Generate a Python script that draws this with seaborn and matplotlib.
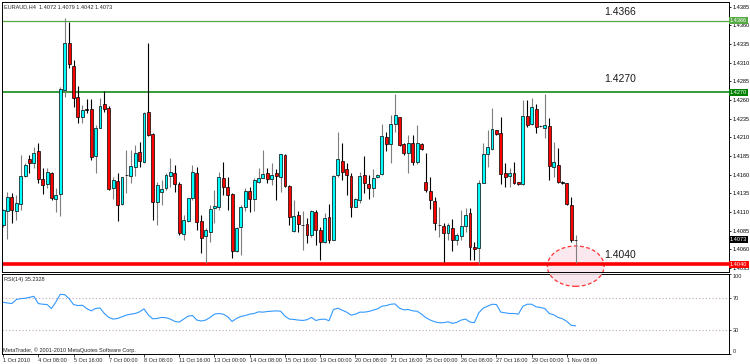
import matplotlib
matplotlib.use("Agg")
import matplotlib.pyplot as plt
from matplotlib.patches import Ellipse
import numpy as np
import pandas as pd
import seaborn as sns

# EURAUD H4 candles
OPEN = [1.4093, 1.4111, 1.4130, 1.4111, 1.4121, 1.4158, 1.4181, 1.4176, 1.4192, 1.4154,
        1.4148, 1.4162, 1.4127, 1.4134, 1.4273, 1.4336, 1.4305, 1.4264, 1.4237, 1.4248,
        1.4248, 1.4185, 1.4222, 1.4255, 1.4249, 1.4142, 1.4152, 1.4121, 1.4159, 1.4158,
        1.4170, 1.4190, 1.4177, 1.4244, 1.4214, 1.4123, 1.4137, 1.4142, 1.4158, 1.4162,
        1.4148, 1.4081, 1.4098, 1.4129, 1.4162, 1.4098, 1.4078, 1.4083, 1.4115, 1.4117,
        1.4156, 1.4144, 1.4134, 1.4058, 1.4090, 1.4117, 1.4138, 1.4127, 1.4150, 1.4156,
        1.4162, 1.4154, 1.4162, 1.4157, 1.4186, 1.4145, 1.4085, 1.4106, 1.4093, 1.4094,
        1.4079, 1.4110, 1.4086, 1.4070, 1.4103, 1.4073, 1.4160, 1.4178, 1.4168, 1.4158,
        1.4117, 1.4126, 1.4160, 1.4148, 1.4142, 1.4157, 1.4161, 1.4210, 1.4201, 1.4228,
        1.4237, 1.4201, 1.4189, 1.4202, 1.4177, 1.4201, 1.4150, 1.4138, 1.4125, 1.4093,
        1.4091, 1.4082, 1.4089, 1.4073, 1.4078, 1.4091, 1.4109, 1.4063, 1.4062, 1.4149,
        1.4188, 1.4194, 1.4220, 1.4216, 1.4162, 1.4158, 1.4162, 1.4150, 1.4148, 1.4238,
        1.4228, 1.4248, 1.4225, 1.4222, 1.4225, 1.4170, 1.4173, 1.4150, 1.4149, 1.4119,
        1.4072]
HIGH = [1.4114, 1.4137, 1.4135, 1.4133, 1.4186, 1.4176, 1.4186, 1.4197, 1.4202, 1.4169,
        1.4169, 1.4164, 1.4142, 1.4277, 1.4370, 1.4364, 1.4313, 1.4279, 1.4253, 1.4261,
        1.4261, 1.4226, 1.4263, 1.4272, 1.4252, 1.4157, 1.4162, 1.4157, 1.4193, 1.4193,
        1.4200, 1.4204, 1.4244, 1.4336, 1.4216, 1.4150, 1.4153, 1.4162, 1.4182, 1.4173,
        1.4150, 1.4106, 1.4129, 1.4173, 1.4170, 1.4106, 1.4089, 1.4119, 1.4140, 1.4164,
        1.4177, 1.4157, 1.4135, 1.4090, 1.4119, 1.4142, 1.4144, 1.4156, 1.4169, 1.4193,
        1.4169, 1.4176, 1.4168, 1.4188, 1.4188, 1.4146, 1.4126, 1.4111, 1.4111, 1.4102,
        1.4113, 1.4113, 1.4090, 1.4109, 1.4121, 1.4160, 1.4217, 1.4202, 1.4176, 1.4162,
        1.4129, 1.4164, 1.4185, 1.4160, 1.4168, 1.4161, 1.4228, 1.4217, 1.4240, 1.4268,
        1.4237, 1.4202, 1.4213, 1.4213, 1.4226, 1.4202, 1.4189, 1.4157, 1.4130, 1.4117,
        1.4095, 1.4095, 1.4101, 1.4082, 1.4113, 1.4115, 1.4115, 1.4070, 1.4153, 1.4202,
        1.4220, 1.4249, 1.4220, 1.4237, 1.4176, 1.4169, 1.4177, 1.4150, 1.4260, 1.4260,
        1.4263, 1.4255, 1.4226, 1.4268, 1.4236, 1.4204, 1.4196, 1.4152, 1.4149, 1.4130,
        1.4079]
LOW = [1.4090, 1.4074, 1.4095, 1.4099, 1.4113, 1.4157, 1.4162, 1.4169, 1.4149, 1.4134,
       1.4142, 1.4126, 1.4110, 1.4105, 1.4264, 1.4303, 1.4251, 1.4229, 1.4229, 1.4243,
       1.4180, 1.4162, 1.4222, 1.4244, 1.4140, 1.4127, 1.4098, 1.4119, 1.4135, 1.4149,
       1.4158, 1.4170, 1.4176, 1.4212, 1.4099, 1.4093, 1.4119, 1.4140, 1.4144, 1.4137,
       1.4079, 1.4073, 1.4097, 1.4126, 1.4086, 1.4055, 1.4042, 1.4070, 1.4095, 1.4113,
       1.4133, 1.4113, 1.4048, 1.4057, 1.4052, 1.4111, 1.4110, 1.4111, 1.4149, 1.4156,
       1.4149, 1.4146, 1.4126, 1.4137, 1.4144, 1.4093, 1.4083, 1.4083, 1.4059, 1.4069,
       1.4077, 1.4066, 1.4046, 1.4069, 1.4069, 1.4073, 1.4157, 1.4153, 1.4133, 1.4103,
       1.4117, 1.4122, 1.4135, 1.4127, 1.4130, 1.4156, 1.4160, 1.4192, 1.4176, 1.4217,
       1.4198, 1.4186, 1.4162, 1.4173, 1.4174, 1.4193, 1.4137, 1.4114, 1.4086, 1.4077,
       1.4043, 1.4073, 1.4058, 1.4066, 1.4073, 1.4083, 1.4046, 1.4046, 1.4040, 1.4149,
       1.4170, 1.4193, 1.4213, 1.4148, 1.4144, 1.4144, 1.4148, 1.4146, 1.4146, 1.4224,
       1.4226, 1.4216, 1.4224, 1.4209, 1.4153, 1.4157, 1.4149, 1.4148, 1.4119, 1.4070,
       1.4042]
CLOSE = [1.4113, 1.4130, 1.4113, 1.4122, 1.4158, 1.4173, 1.4176, 1.4189, 1.4154, 1.4146,
         1.4164, 1.4129, 1.4133, 1.4275, 1.4336, 1.4308, 1.4263, 1.4237, 1.4247, 1.4247,
         1.4184, 1.4222, 1.4252, 1.4248, 1.4141, 1.4153, 1.4119, 1.4157, 1.4160, 1.4172,
         1.4189, 1.4178, 1.4243, 1.4213, 1.4123, 1.4146, 1.4141, 1.4160, 1.4164, 1.4148,
         1.4082, 1.4099, 1.4129, 1.4164, 1.4097, 1.4075, 1.4086, 1.4114, 1.4118, 1.4157,
         1.4144, 1.4133, 1.4058, 1.4089, 1.4117, 1.4138, 1.4127, 1.4153, 1.4156, 1.4161,
         1.4154, 1.4160, 1.4158, 1.4188, 1.4145, 1.4103, 1.4105, 1.4094, 1.4093, 1.4079,
         1.4111, 1.4086, 1.4070, 1.4102, 1.4073, 1.4158, 1.4181, 1.4164, 1.4160, 1.4117,
         1.4127, 1.4158, 1.4149, 1.4142, 1.4156, 1.4160, 1.4212, 1.4201, 1.4228, 1.4240,
         1.4200, 1.4189, 1.4202, 1.4177, 1.4202, 1.4194, 1.4140, 1.4126, 1.4095, 1.4093,
         1.4082, 1.4093, 1.4073, 1.4079, 1.4091, 1.4106, 1.4063, 1.4061, 1.4149, 1.4188,
         1.4197, 1.4221, 1.4214, 1.4161, 1.4157, 1.4162, 1.4149, 1.4148, 1.4238, 1.4226,
         1.4251, 1.4224, 1.4225, 1.4226, 1.4172, 1.4177, 1.4150, 1.4149, 1.4121, 1.4073,
         1.4073]

RSI = [64.6, 63.8, 63.0, 68.0, 69.2, 69.6, 70.8, 72.1, 63.0, 62.2,
       61.8, 56.8, 65.1, 74.6, 74.1, 69.2, 61.8, 60.5, 60.9, 56.8,
       53.9, 56.8, 57.6, 50.6, 45.7, 43.6, 44.4, 46.5, 48.6, 49.8,
       50.6, 52.7, 56.4, 48.6, 44.0, 44.4, 45.7, 45.3, 43.6, 40.7,
       39.9, 43.6, 47.3, 48.1, 42.4, 41.2, 42.4, 45.7, 49.8, 50.6,
       49.8, 46.5, 40.7, 44.4, 46.9, 48.1, 49.8, 50.6, 52.7, 52.3,
       53.1, 53.5, 53.9, 53.5, 47.3, 43.6, 43.2, 42.4, 41.9, 42.8,
       45.7, 41.9, 43.2, 43.6, 41.6, 55.6, 57.2, 54.8, 52.3, 48.6,
       49.8, 52.3, 52.3, 53.1, 54.8, 56.4, 59.7, 60.5, 62.2, 62.6,
       57.2, 55.2, 55.6, 53.9, 53.5, 49.8, 45.3, 42.4, 40.3, 39.1,
       39.1, 40.3, 38.3, 39.5, 42.4, 43.6, 39.9, 39.1, 51.5, 57.2,
       59.7, 62.2, 61.8, 52.3, 51.5, 50.6, 50.6, 49.8, 59.7, 62.2,
       62.2, 58.9, 58.1, 56.8, 50.6, 49.0, 45.7, 44.0, 40.7, 35.8,
       35.2]

DATE_LABELS = ["1 Oct 2010", "4 Oct 08:00", "5 Oct 16:00", "7 Oct 00:00", "8 Oct 08:00",
               "11 Oct 16:00", "13 Oct 00:00", "14 Oct 08:00", "15 Oct 16:00", "19 Oct 00:00",
               "20 Oct 08:00", "21 Oct 16:00", "25 Oct 00:00", "26 Oct 08:00", "27 Oct 16:00",
               "29 Oct 00:00", "1 Nov 08:00"]
BARS_PER_LABEL = 8

PRICE_TICKS = [1.4035, 1.4060, 1.4085, 1.4110, 1.4135, 1.4160, 1.4185, 1.4210, 1.4235,
               1.4260, 1.4285, 1.4310, 1.4335, 1.4360, 1.4385]
LEVELS = [1.4366, 1.4270, 1.4040]
LEVEL_COLORS = ["#55aa44", "#008000", "#ff0000"]
LEVEL_WIDTHS = [0.9, 1.1, 2.6]
LEVEL_TEXT_OFFSETS = [6.0, 9.8, 6.8]  # points above line
LAST_PRICE = 1.4073
RSI_LEVELS = [70, 30]
RSI_TICKS = [100, 70, 30, 0]

HEADER = "EURAUD,H4  1.4072 1.4079 1.4042 1.4073"
RSI_TITLE = "RSI(14) 35.2328"
COPYRIGHT = "MetaTrader, \u00a9 2001-2010 MetaQuotes Software Corp."

BULL = "#00ffff"
BEAR = "#ff0000"
SMALL_FONT = ["Liberation Sans Narrow", "Liberation Sans", "DejaVu Sans"]
SMALL = 4.0


def main() -> None:
    sns.set_style("white")
    plt.rcParams["font.family"] = ["Liberation Sans", "DejaVu Sans"]

    df = pd.DataFrame({"open": OPEN, "high": HIGH, "low": LOW, "close": CLOSE})
    df["bar"] = np.arange(len(df))
    df["rsi"] = RSI
    df["up"] = df["close"] >= df["open"]
    df["doji"] = (df["close"] - df["open"]).abs() < 0.00015

    fig = plt.figure(figsize=(7.5, 3.64), dpi=100)
    fig.patch.set_facecolor("white")
    ax = fig.add_axes([0.0023, 0.2514, 0.9697, 0.7440])
    ax_rsi = fig.add_axes([0.0023, 0.0275, 0.9697, 0.2198])
    ax.set_zorder(2)
    ax_rsi.set_zorder(1)

    xlim = (-0.3, 164.8)

    # wicks
    wick_colors = np.where(df["up"], "#7f7f7f", "#000000")
    ax.vlines(df["bar"], df["low"], df["high"], colors=wick_colors, linewidth=0.8, zorder=2)

    # bodies
    body_bottom = df[["open", "close"]].min(axis=1)
    body_height = (df["close"] - df["open"]).abs()
    body_colors = np.where(df["doji"], "#000000", np.where(df["up"], BULL, BEAR))
    ax.bar(df["bar"], body_height, bottom=body_bottom, width=0.66, color=body_colors,
           edgecolor="#000000", linewidth=0.5, zorder=3)

    # horizontal levels
    for level, color, lw, off in zip(LEVELS, LEVEL_COLORS, LEVEL_WIDTHS, LEVEL_TEXT_OFFSETS):
        ax.axhline(level, color=color, linewidth=lw, zorder=1)
        ax.annotate(f"{level:.4f}", xy=(140, level), xytext=(0, off), textcoords="offset points",
                    ha="center", va="center", fontsize=7.5, color="#1a1a1a", zorder=6)
        ax.text(1.0015, level, f"{level:.4f}", transform=ax.get_yaxis_transform(),
                ha="left", va="center", fontsize=SMALL, color="white", family=SMALL_FONT,
                bbox=dict(boxstyle="square,pad=0.2", fc=color, ec="none"), zorder=7, clip_on=False)
    ax.text(1.0015, LAST_PRICE, f"{LAST_PRICE:.4f}", transform=ax.get_yaxis_transform(),
            ha="left", va="center", fontsize=SMALL, color="white", family=SMALL_FONT,
            bbox=dict(boxstyle="square,pad=0.2", fc="#000000", ec="none"), zorder=7, clip_on=False)

    # highlighted low
    last_bar = len(df) - 1
    ax.add_patch(Ellipse((last_bar, LEVELS[2] - 0.00025), width=12.9, height=0.0054,
                         facecolor="#fbe3ec", alpha=0.8, edgecolor="#ff0000",
                         linestyle=(0, (3, 2)), linewidth=0.9, zorder=0.5, clip_on=False))

    ax.set_xlim(*xlim)
    ax.set_ylim(1.40290, 1.43915)
    ax.yaxis.tick_right()
    ax.set_yticks(PRICE_TICKS)
    ax.set_yticklabels([f"{p:.4f}" for p in PRICE_TICKS], fontsize=SMALL, family=SMALL_FONT)
    ax.tick_params(axis="y", right=True, length=1.5, width=0.6, pad=1.0, colors="#000000")
    ax.set_xticks([])
    for spine in ax.spines.values():
        spine.set_color("#000000")
        spine.set_linewidth(0.7)
    ax.set_facecolor("white")

    # RSI panel
    sns.lineplot(data=df, x="bar", y="rsi", ax=ax_rsi, color="#3399ff", linewidth=0.8)
    for lvl in RSI_LEVELS:
        ax_rsi.axhline(lvl, color="#c0a8b8", linewidth=0.8, linestyle=(0, (1, 2)), zorder=0)
    ax_rsi.set_xlim(*xlim)
    ax_rsi.set_ylim(0, 100)
    ax_rsi.yaxis.tick_right()
    ax_rsi.set_yticks(RSI_TICKS)
    ax_rsi.set_yticklabels([str(t) for t in RSI_TICKS], fontsize=SMALL, family=SMALL_FONT)
    labels = ax_rsi.get_yticklabels()
    labels[0].set_va("top")
    labels[-1].set_va("bottom")
    ax_rsi.tick_params(axis="y", right=True, length=1.5, width=0.6, pad=1.0)
    tick_bars = [i * BARS_PER_LABEL for i in range(len(DATE_LABELS))]
    ax_rsi.set_xticks(tick_bars)
    ax_rsi.set_xticklabels(DATE_LABELS, fontsize=SMALL, family=SMALL_FONT, ha="left")
    ax_rsi.tick_params(axis="x", bottom=True, length=2.5, width=0.6, pad=0.5)
    ax_rsi.set_xlabel("")
    ax_rsi.set_ylabel("")
    for spine in ax_rsi.spines.values():
        spine.set_color("#000000")
        spine.set_linewidth(0.7)
    ax_rsi.set_facecolor("white")

    # captions
    fig.text(4 / 750, 1 - 7 / 364, HEADER, fontsize=SMALL, family=SMALL_FONT, va="center")
    fig.text(4 / 750, 1 - 279 / 364, RSI_TITLE, fontsize=SMALL, family=SMALL_FONT, va="center")
    fig.text(3 / 750, 1 - 350 / 364, COPYRIGHT, fontsize=SMALL, family=SMALL_FONT, va="center")

    fig.savefig("out.png", dpi=100, facecolor="white")
    plt.close(fig)


if __name__ == "__main__":
    main()
